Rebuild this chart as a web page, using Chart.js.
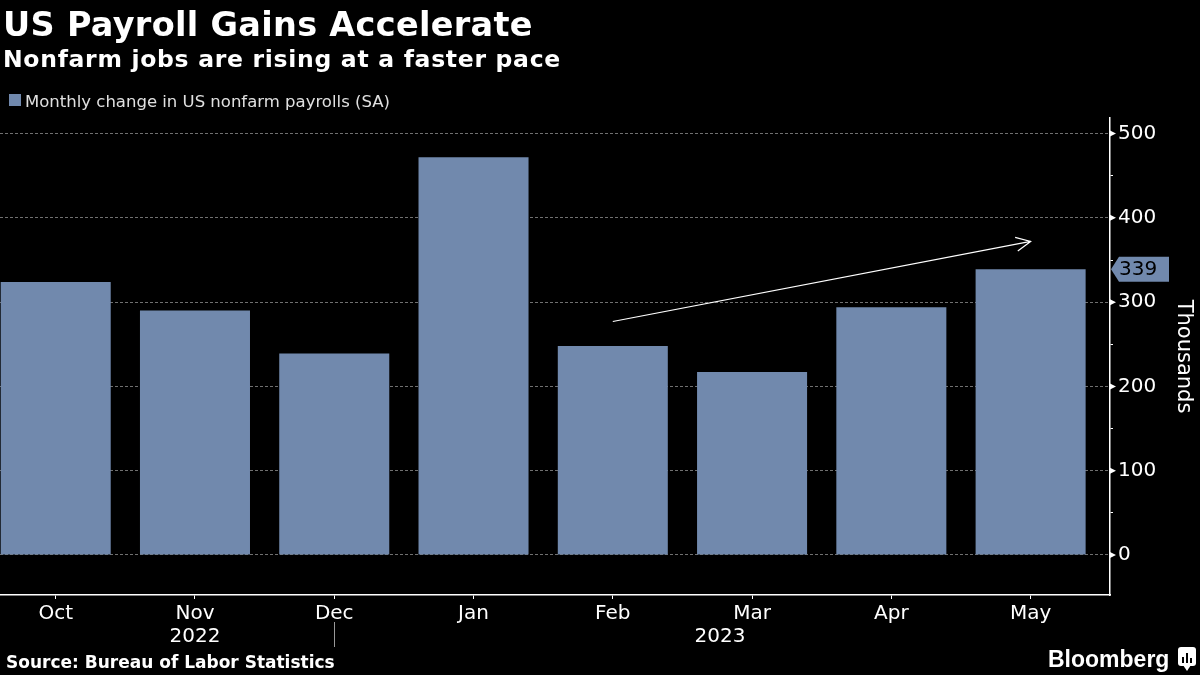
<!DOCTYPE html>
<html>
<head>
<meta charset="utf-8">
<script src="https://cdn.jsdelivr.net/npm/chart.js@4.4.1/dist/chart.umd.min.js"></script>
<style>
  html, body { margin: 0; padding: 0; background: #000; }
  canvas { display: block; }
</style>
</head>
<body>
<canvas id="chart" width="1200" height="675"></canvas>
<script>
// data
const months = ['Oct', 'Nov', 'Dec', 'Jan', 'Feb', 'Mar', 'Apr', 'May'];
const payrolls = [324, 290, 239, 472, 248, 217, 294, 339];
const yearLabels = ['2022', '2023'];
const yearPositions = [1, 4.77];   // x index where each year label sits
const yearBreak = 2;               // separator under Dec
const yTicks = [0, 100, 200, 300, 400, 500];
const yMinorTicks = [50, 150, 250, 350, 450];
const trendStart = [4, 277];       // [index, value]
const trendEnd = [7, 372];

const BAR = '#7189ad';
const FONT = '"DejaVu Sans", sans-serif';

const points = payrolls.map((v, i) => ({ x: i, y: v }));

// title, legend, source, logo, arrow and last-value flag
const annotations = {
  id: 'annotations',
  afterDatasetsDraw(chart) {
    const { ctx, scales: { x, y } } = chart;
    ctx.save();

    // trend arrow
    const x1 = x.getPixelForValue(trendStart[0]), y1 = y.getPixelForValue(trendStart[1]);
    const x2 = x.getPixelForValue(trendEnd[0]), y2 = y.getPixelForValue(trendEnd[1]);
    const ang = Math.atan2(y2 - y1, x2 - x1);
    ctx.strokeStyle = '#fff';
    ctx.lineWidth = 1.2;
    ctx.beginPath();
    ctx.moveTo(x1, y1);
    ctx.lineTo(x2, y2);
    ctx.moveTo(x2 - 16 * Math.cos(ang - 0.45), y2 - 16 * Math.sin(ang - 0.45));
    ctx.lineTo(x2, y2);
    ctx.lineTo(x2 - 16 * Math.cos(ang + 0.45), y2 - 16 * Math.sin(ang + 0.45));
    ctx.stroke();

    // major tick arrowheads on the right axis
    const ax = chart.chartArea.right;
    ctx.fillStyle = '#fff';
    yTicks.forEach(v => {
      const ty = y.getPixelForValue(v);
      ctx.beginPath();
      ctx.moveTo(ax, ty - 3);
      ctx.lineTo(ax + 6, ty);
      ctx.lineTo(ax, ty + 3);
      ctx.closePath();
      ctx.fill();
    });

    // last value flag
    const last = payrolls[payrolls.length - 1];
    const fy = y.getPixelForValue(last);
    ctx.fillStyle = BAR;
    ctx.beginPath();
    ctx.moveTo(ax + 1, fy);
    ctx.lineTo(ax + 9, fy - 12.5);
    ctx.lineTo(ax + 59, fy - 12.5);
    ctx.lineTo(ax + 59, fy + 12.5);
    ctx.lineTo(ax + 9, fy + 12.5);
    ctx.closePath();
    ctx.fill();
    ctx.fillStyle = '#000';
    ctx.font = '20px ' + FONT;
    ctx.textBaseline = 'middle';
    ctx.fillText(String(last), ax + 9, fy + 1);

    // year labels and separator
    ctx.fillStyle = '#fff';
    ctx.textAlign = 'center';
    ctx.textBaseline = 'alphabetic';
    yearLabels.forEach((t, i) => ctx.fillText(t, x.getPixelForValue(yearPositions[i]), 642));
    const sx = Math.round(x.getPixelForValue(yearBreak)) + 0.5;
    ctx.strokeStyle = '#999';
    ctx.lineWidth = 1;
    ctx.beginPath();
    ctx.moveTo(sx, 622);
    ctx.lineTo(sx, 647);
    ctx.stroke();

    // header
    ctx.textAlign = 'left';
    ctx.fillStyle = '#fff';
    ctx.font = 'bold 33.5px ' + FONT;
    ctx.letterSpacing = '0.3px';
    ctx.fillText('US Payroll Gains Accelerate', 3, 36);
    ctx.font = 'bold 23.5px ' + FONT;
    ctx.letterSpacing = '0.7px';
    ctx.fillText('Nonfarm jobs are rising at a faster pace', 3, 67);
    ctx.letterSpacing = '0px';

    // legend
    ctx.fillStyle = BAR;
    ctx.fillRect(9, 94, 12, 12);
    ctx.fillStyle = '#e0e0e0';
    ctx.font = '16.5px ' + FONT;
    ctx.fillText(chart.data.datasets[0].label, 25, 106.5);

    // footer
    ctx.fillStyle = '#fff';
    ctx.font = 'bold 17px ' + FONT;
    ctx.fillText('Source: Bureau of Labor Statistics', 6, 668);
    ctx.font = 'bold 23px "Liberation Sans", sans-serif';
    ctx.fillText('Bloomberg', 1048, 667);

    // logo mark
    ctx.beginPath();
    ctx.roundRect(1178, 647, 18, 19, 3);
    ctx.fill();
    ctx.beginPath();
    ctx.moveTo(1183, 665);
    ctx.lineTo(1187, 671);
    ctx.lineTo(1191, 665);
    ctx.fill();
    ctx.fillStyle = '#000';
    ctx.fillRect(1182, 657, 2, 6);
    ctx.fillRect(1186, 653, 2, 10);
    ctx.fillRect(1190, 658, 2, 5);

    ctx.restore();
  }
};

new Chart(document.getElementById('chart'), {
  type: 'bar',
  data: {
    datasets: [{
      label: 'Monthly change in US nonfarm payrolls (SA)',
      data: points,
      backgroundColor: BAR,
      borderWidth: 0,
      categoryPercentage: 1,
      barPercentage: 0.79
    }]
  },
  options: {
    responsive: false,
    animation: false,
    layout: { padding: { top: 118, left: 0, right: 0, bottom: 0 } },
    plugins: { legend: { display: false }, tooltip: { enabled: false } },
    scales: {
      x: {
        type: 'linear',
        offset: false,
        min: -0.4,
        max: 7.57,
        afterBuildTicks: s => { s.ticks = months.map((m, i) => ({ value: i })); },
        afterFit: s => { s.height = 80; },
        grid: { display: true, offset: false, drawOnChartArea: false, drawTicks: true, tickLength: 4, tickColor: '#fff' },
        border: { display: true, color: '#fff', width: 1.5 },
        ticks: {
          autoSkip: false,
          maxRotation: 0,
          padding: 3,
          color: '#fff',
          font: { family: FONT, size: 20 },
          callback: v => months[v]
        }
      },
      y: {
        position: 'right',
        min: -47.5,
        max: 518.5,
        afterBuildTicks: s => {
          s.ticks = yTicks.concat(yMinorTicks).sort((a, b) => a - b).map(v => ({ value: v }));
        },
        afterFit: s => { s.width = 90; },
        grid: {
          color: c => (c.tick && yTicks.includes(c.tick.value)) ? '#707070' : 'rgba(0,0,0,0)',
          lineWidth: 1,
          drawTicks: true,
          tickLength: 3,
          tickColor: '#fff'
        },
        border: { display: true, color: '#fff', width: 1.5, dash: [3, 2] },
        ticks: {
          padding: 5,
          color: '#fff',
          font: { family: FONT, size: 20 },
          callback: v => yTicks.includes(v) ? String(v) : ''
        },
        title: {
          display: true,
          text: 'Thousands',
          color: '#fff',
          font: { family: FONT, size: 21 },
          padding: { top: 4, bottom: 0 }
        }
      }
    }
  },
  plugins: [annotations]
});
</script>
</body>
</html>
